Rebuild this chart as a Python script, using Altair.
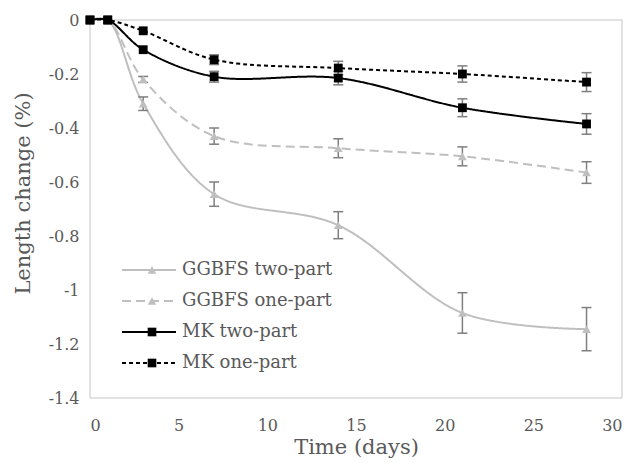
import altair as alt
import pandas as pd

# ---- data ----
time_days = [0, 1, 3, 7, 14, 21, 28]
series_names = ["GGBFS two-part", "GGBFS one-part", "MK two-part", "MK one-part"]
marker_keys = [s + " " for s in series_names]

ggbfs_two = [0, 0, -0.31, -0.645, -0.76, -1.085, -1.145]
ggbfs_two_err = [0, 0, 0.025, 0.045, 0.05, 0.075, 0.08]
ggbfs_one = [0, 0, -0.22, -0.43, -0.475, -0.505, -0.565]
ggbfs_one_err = [0, 0, 0.011, 0.03, 0.035, 0.035, 0.04]
mk_two = [0, 0, -0.11, -0.21, -0.215, -0.325, -0.385]
mk_two_err = [0, 0, 0, 0.02, 0.025, 0.033, 0.038]
mk_one = [0, 0, -0.04, -0.147, -0.178, -0.2, -0.23]
mk_one_err = [0, 0, 0, 0.018, 0.025, 0.03, 0.035]

x_ticks = [0, 5, 10, 15, 20, 25, 30]
y_ticks = [0, -0.2, -0.4, -0.6, -0.8, -1, -1.2, -1.4]

values = [ggbfs_two, ggbfs_one, mk_two, mk_one]
errors = [ggbfs_two_err, ggbfs_one_err, mk_two_err, mk_one_err]

rows = []
for name, key, vals, errs in zip(series_names, marker_keys, values, errors):
    for t, v, e in zip(time_days, vals, errs):
        rows.append({"series": name, "marker": key, "t": t, "v": v, "err": e,
                     "lo": v - e, "hi": v + e})
df = pd.DataFrame(rows)

FONT = "DejaVu Serif"
TXT = "#595959"

color_scale = alt.Scale(domain=series_names,
                        range=["#bfbfbf", "#bfbfbf", "#000000", "#000000"])
dash_scale = alt.Scale(domain=series_names,
                       range=[[1, 0], [9, 5], [1, 0], [4, 3]])
width_scale = alt.Scale(domain=series_names, range=[2, 2, 1.5, 1.2])
shape_scale = alt.Scale(domain=marker_keys,
                        range=["triangle-up", "triangle-up", "square", "square"])

x_enc = alt.X("t:Q", scale=alt.Scale(domain=[0, 30], nice=False),
              axis=alt.Axis(values=x_ticks, title="Time (days)",
                            labelPadding=19, titlePadding=3))
y_enc = alt.Y("v:Q", scale=alt.Scale(domain=[-1.4, 0], nice=False),
              axis=alt.Axis(values=y_ticks, title="Length change (%)",
                            labelExpr="datum.value + ''",
                            labelPadding=11, titlePadding=15, titleY=173))

LX, LY = 33, 241

line_legend = alt.Legend(
    orient="none", legendX=LX, legendY=LY, title=None, padding=0,
    direction="vertical", labelFont=FONT, labelFontSize=18, rowPadding=13,
    labelLimit=400,
    symbolType="M-6.75,0H6.75", symbolSize=64, symbolStrokeWidth=1.8,
    symbolOffset=17, labelOffset=24, labelColor=TXT)

marker_legend = alt.Legend(
    orient="none", legendX=LX, legendY=LY, title=None, padding=0,
    direction="vertical", labelFont=FONT, labelFontSize=18, rowPadding=13,
    labelExpr="' '", labelOffset=0,
    symbolSize=75, symbolOffset=20, symbolStrokeWidth=0,
    symbolFillColor={"expr": "scale('color', trim(datum.value))"},
    symbolOpacity=1, labelColor="transparent")

base = alt.Chart(df)

lines = base.mark_line(interpolate="catmull-rom").encode(
    x=x_enc, y=y_enc,
    color=alt.Color("series:N", scale=color_scale, legend=line_legend),
    strokeDash=alt.StrokeDash("series:N", scale=dash_scale, legend=line_legend),
    strokeWidth=alt.StrokeWidth("series:N", scale=width_scale, legend=None),
)

err_base = base.transform_filter("datum.err > 0")
err_rule = err_base.mark_rule(color="#7f7f7f", strokeWidth=1.5).encode(
    x="t:Q", y="lo:Q", y2="hi:Q")
cap_lo = err_base.mark_point(shape="M-1,0H1", size=100, filled=False,
                             color="#7f7f7f", strokeWidth=1.5, opacity=1).encode(
    x="t:Q", y="lo:Q")
cap_hi = err_base.mark_point(shape="M-1,0H1", size=100, filled=False,
                             color="#7f7f7f", strokeWidth=1.5, opacity=1).encode(
    x="t:Q", y="hi:Q")

points = base.mark_point(filled=True, opacity=1, size=78).encode(
    x="t:Q", y="v:Q",
    color=alt.Color("series:N", scale=color_scale, legend=None),
    shape=alt.Shape("marker:N", scale=shape_scale, legend=marker_legend),
)

chart = alt.layer(lines, err_rule, cap_lo, cap_hi, points).properties(
    width=532, height=378,
    padding={"left": 90, "top": 20, "right": 11, "bottom": 65},
    autosize=alt.AutoSizeParams(type="none"),
    background="white",
).configure_view(
    stroke="#d9d9d9", strokeWidth=1.5
).configure_axis(
    grid=False, domain=False, ticks=False,
    labelFont=FONT, labelFontSize=16, labelColor=TXT,
    titleFont=FONT, titleFontSize=21, titleColor=TXT, titleFontWeight="normal",
)

chart.save("out.html", embed_options={"renderer": "svg", "actions": False})
